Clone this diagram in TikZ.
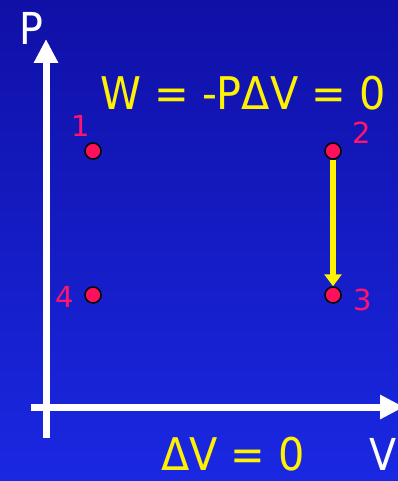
\documentclass[tikz,border=0pt]{standalone}
\usepackage{fontspec}
\setmainfont{DejaVu Sans}
\usetikzlibrary{arrows.meta}
\definecolor{bgtop}{RGB}{16,16,166}
\definecolor{bgbottom}{RGB}{26,40,226}
\definecolor{statered}{RGB}{255,16,90}
\definecolor{labelpink}{RGB}{255,20,110}
\tikzset{
  dot/.style={circle, draw=black, line width=1.5pt, fill=statered,
    inner sep=0pt, minimum size=16pt},
  statelabel/.style={text=labelpink, font=\fontsize{29}{29}\selectfont},
  axislabel/.style={text=white, font=\fontsize{44}{44}\selectfont\addfontfeature{FakeStretch=0.9}},
  eqlabel/.style={text=yellow, font=\fontsize{45}{45}\selectfont\addfontfeature{FakeStretch=0.92}}
}
\begin{document}
\begin{tikzpicture}[x=1pt, y=-1pt, line cap=butt]
  % Background.
  \shade[top color=bgtop, bottom color=bgbottom] (0,0) rectangle (398,481);
  \useasboundingbox (0,0) rectangle (398,481);
  % Axes.
  \coordinate (O1) at (46,438);
  \coordinate (Ptop) at (46,39);
  \coordinate (O2) at (31,407);
  \coordinate (Vend) at (404,407);
  \draw[white, line width=7pt, -{Triangle[length=24pt, width=23pt]}] (O1) -- (Ptop);
  \draw[white, line width=7pt, -{Triangle[length=24pt, width=23pt]}] (O2) -- (Vend);
  \node[axislabel] (plabel) at (31,28) {P};
  \node[axislabel, inner sep=1pt] (vlabel) at (383,454) {V};
  % States.
  \node[dot] (s1) at (93,151) {};
  \node[dot] (s2) at (333,151) {};
  \node[dot] (s3) at (333,295) {};
  \node[dot] (s4) at (93,295) {};
  \node[statelabel] (l1) at (81,126) {1};
  \node[statelabel] (l2) at (362,133) {2};
  \node[statelabel] (l3) at (363,300) {3};
  \node[statelabel] (l4) at (65,297) {4};
  % Process 2 -> 3.
  \draw[yellow, line width=6pt, -{Triangle[length=12pt, width=17pt]}] (s2) -- (s3);
  % Labels.
  \node[eqlabel, inner sep=1pt] (work) at (243,93) {W = -PΔV = 0};
  \node[eqlabel, inner sep=1pt] (dv) at (233,454) {ΔV = 0};
\end{tikzpicture}
\end{document}
